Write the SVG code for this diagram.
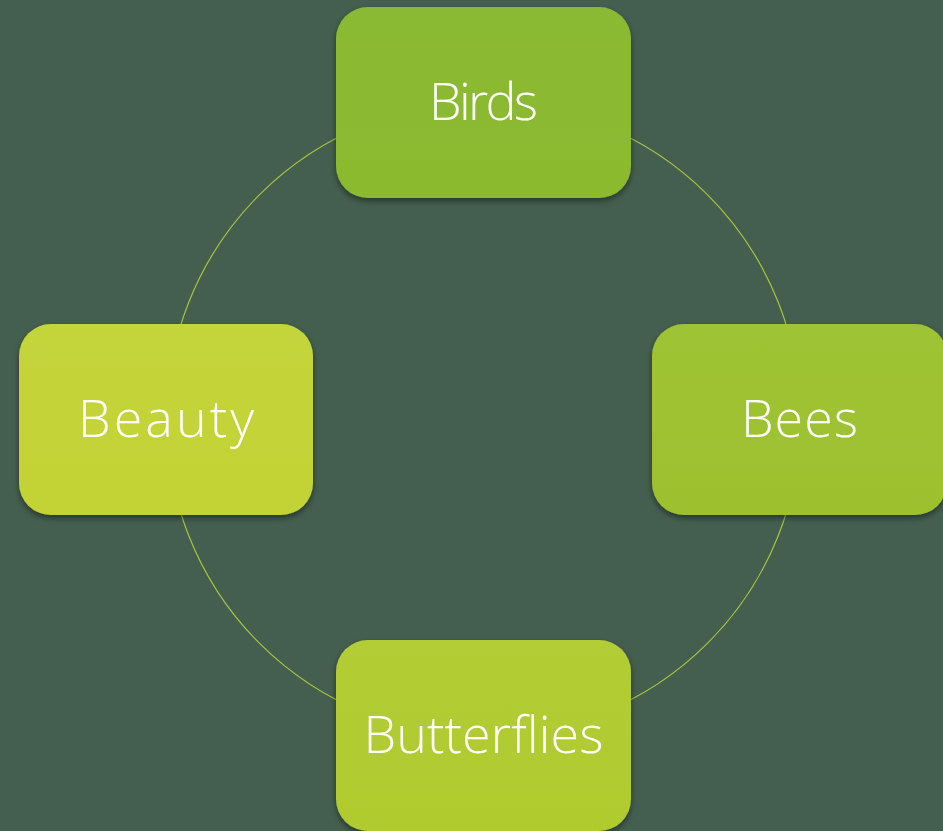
<svg xmlns="http://www.w3.org/2000/svg" width="943" height="831" viewBox="0 0 943 831">
<defs>
<filter id="sh" x="-10%" y="-10%" width="120%" height="130%">
<feDropShadow dx="0" dy="3" stdDeviation="3" flood-color="#000" flood-opacity="0.45"/>
</filter>
<linearGradient id="g1" x1="0" y1="0" x2="0" y2="1"><stop offset="0" stop-color="#8aba34"/><stop offset="1" stop-color="#8cba2e"/></linearGradient>
<linearGradient id="g2" x1="0" y1="0" x2="0" y2="1"><stop offset="0" stop-color="#9ec334"/><stop offset="1" stop-color="#9dc12e"/></linearGradient>
<linearGradient id="g3" x1="0" y1="0" x2="0" y2="1"><stop offset="0" stop-color="#b2cd34"/><stop offset="1" stop-color="#afcb2e"/></linearGradient>
<linearGradient id="g4" x1="0" y1="0" x2="0" y2="1"><stop offset="0" stop-color="#c4d43b"/><stop offset="1" stop-color="#c3d334"/></linearGradient>
</defs>
<style>
.box{filter:url(#sh);}
.lbl{font-family:"Open Sans","DejaVu Sans",sans-serif;font-weight:300;font-size:52px;fill:#ffffff;text-anchor:middle;}
.ring{fill:none;stroke:#a9c53b;stroke-width:1.2;}
</style>
<rect width="943" height="831" fill="#445f50"/>
<g id="connectors">
<circle class="ring" cx="483.5" cy="419" r="317"/>
</g>
<g id="node-birds">
<rect class="box" x="336" y="7" width="295" height="191" rx="32" fill="url(#g1)"/>
<text class="lbl" x="483.5" y="120" textLength="109">Birds</text>
</g>
<g id="node-bees">
<rect class="box" x="652" y="324" width="295" height="191" rx="32" fill="url(#g2)"/>
<text class="lbl" x="799.5" y="437" textLength="117">Bees</text>
</g>
<g id="node-butterflies">
<rect class="box" x="336" y="640" width="295" height="191" rx="32" fill="url(#g3)"/>
<text class="lbl" x="483.5" y="753" textLength="240">Butterflies</text>
</g>
<g id="node-beauty">
<rect class="box" x="19" y="324" width="294" height="191" rx="32" fill="url(#g4)"/>
<text class="lbl" x="166" y="437" textLength="176">Beauty</text>
</g>
</svg>
